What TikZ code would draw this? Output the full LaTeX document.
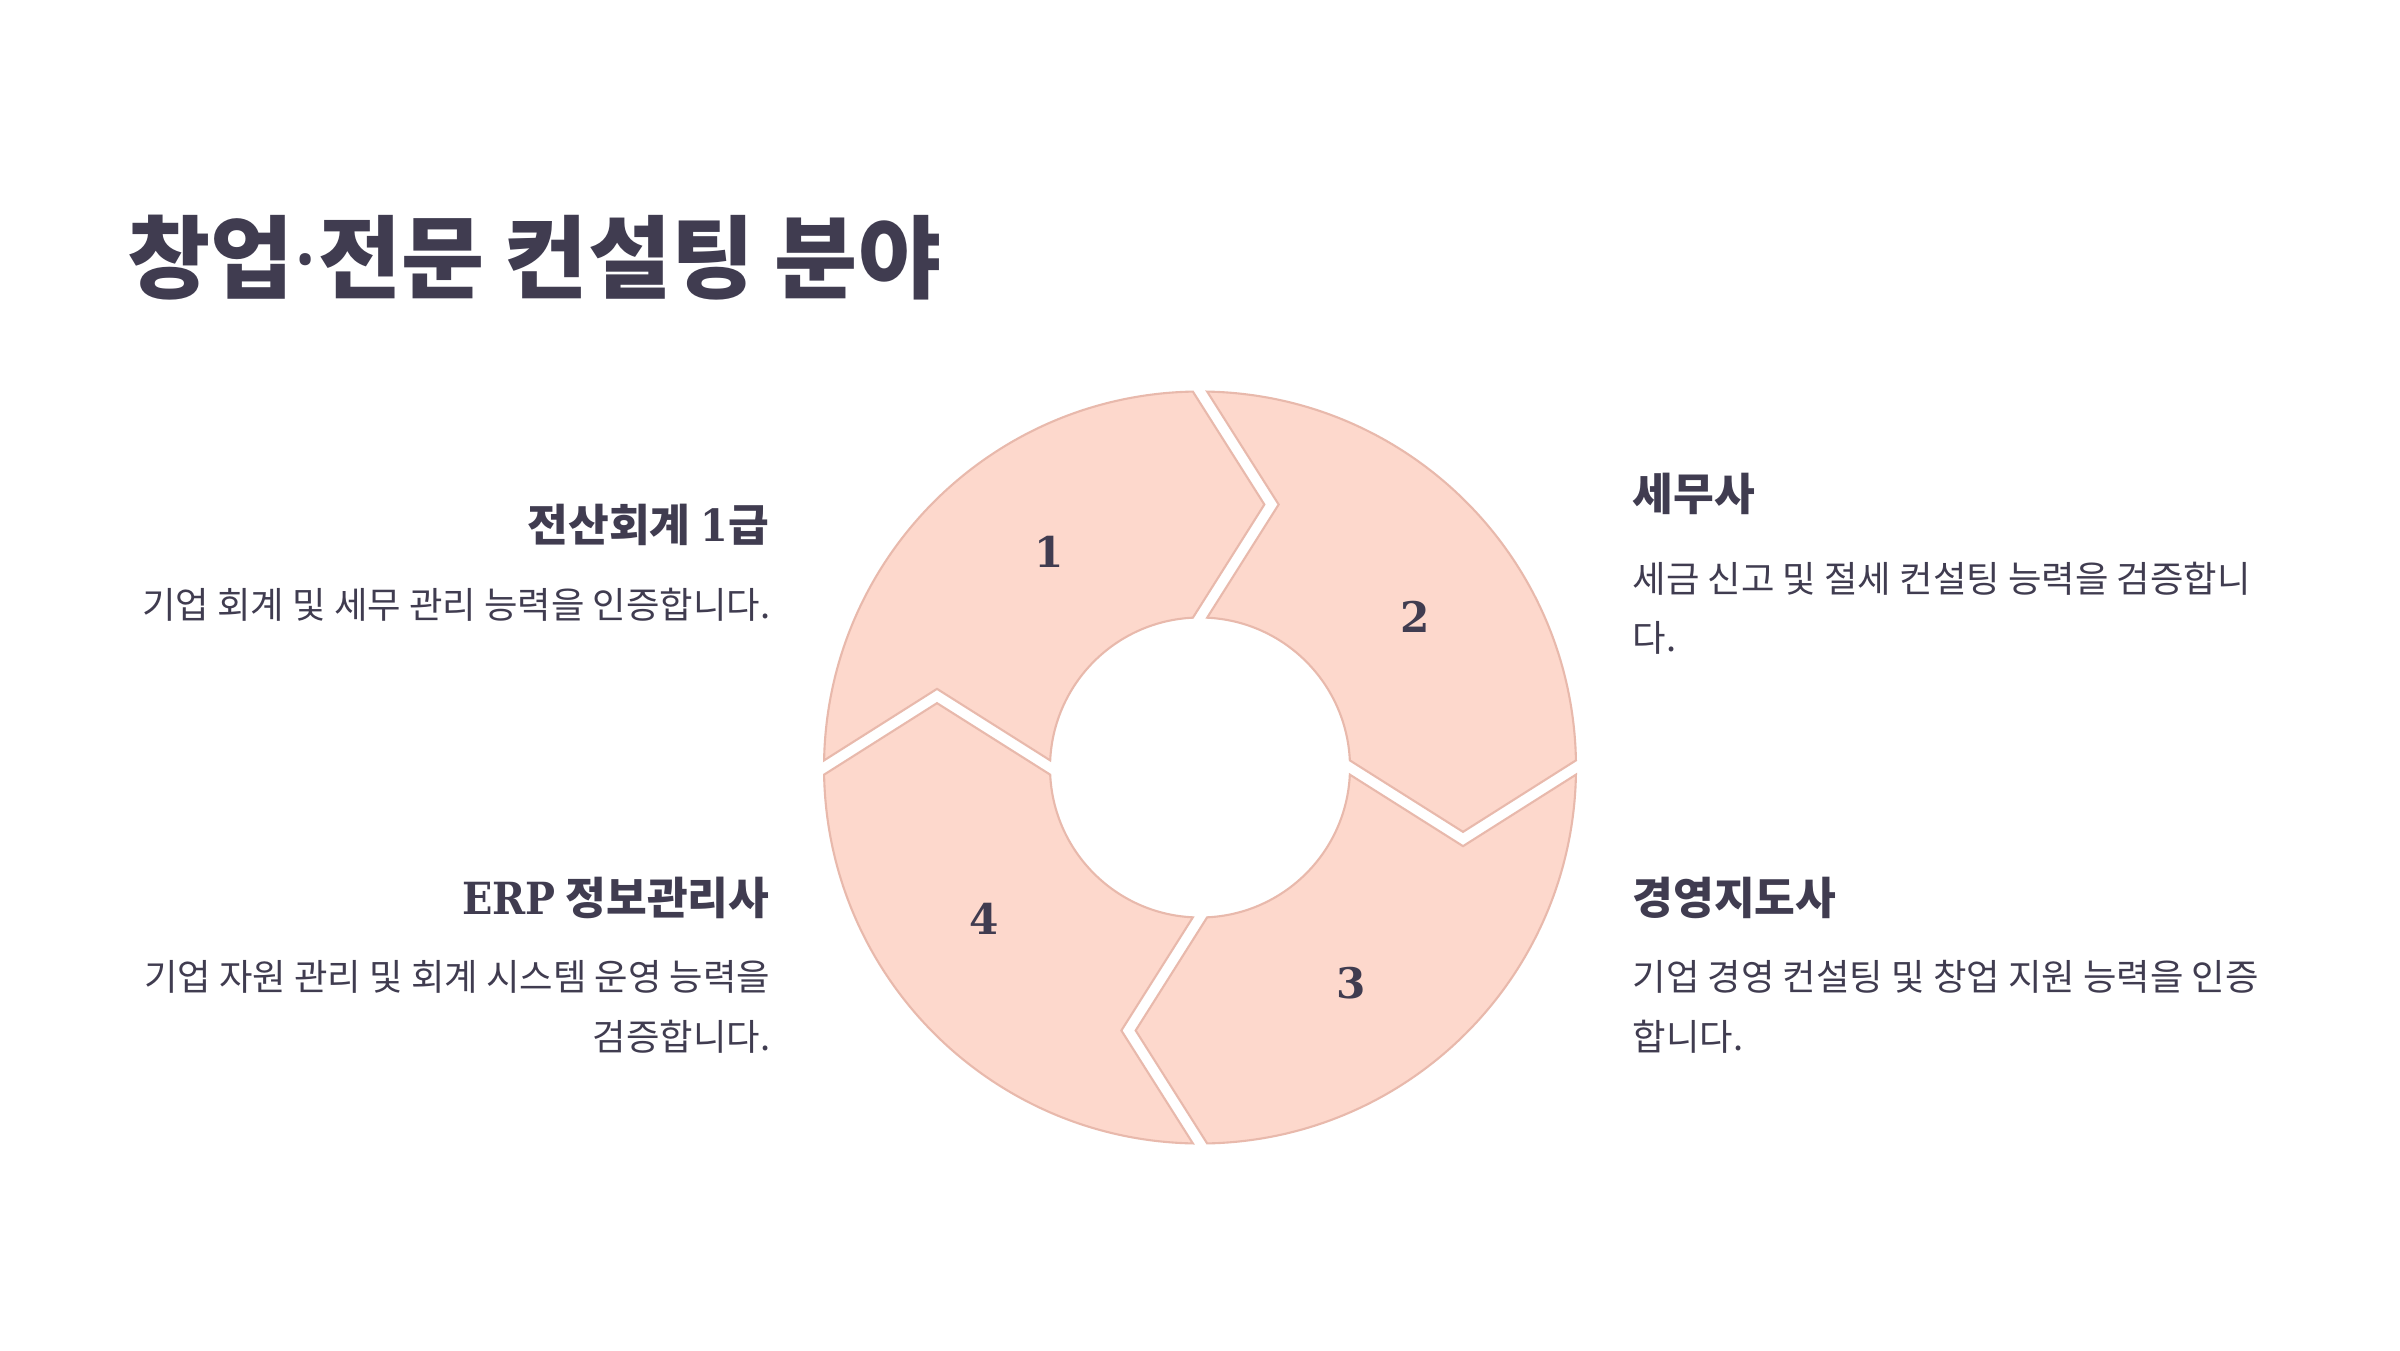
\documentclass[tikz,border=0pt]{standalone}
\usepackage{fontspec}
\setmainfont{Noto Sans CJK KR}
\newfontfamily\serifnum{DejaVu Serif}
\newfontfamily\serifhead{DejaVu Serif Condensed}
\newfontfamily\dotfont{Noto Sans}
\usetikzlibrary{positioning}
\definecolor{ink}{HTML}{403C50}
\definecolor{petal}{HTML}{FDD8CC}
\definecolor{petalline}{HTML}{E8B9AC}
\newcommand{\latin}[1]{{\serifhead\bfseries #1}}

\begin{document}
\begin{tikzpicture}[
  piece/.style={fill=petal, draw=petalline, line width=0.6pt, line join=miter},
  num/.style={font=\serifnum\bfseries\fontsize{12}{12}\selectfont, text=ink},
  title/.style={font=\bfseries\fontsize{25.7}{30}\selectfont, text=ink, inner sep=0pt},
  head/.style={font=\bfseries\fontsize{12.6}{15}\selectfont, text=ink, inner sep=0pt},
  desc/.style={font=\fontsize{10.35}{17}\selectfont, text=ink, inner sep=0pt},
]
\useasboundingbox[fill=white] (0,0) rectangle (24,13.5);

\node[title, anchor=west] (ttl) at (1.27,10.92) {창업{\dotfont\bfseries ·}전문 컨설팅 분야};

% ring of four arrow pieces, clockwise
\foreach \k in {0,...,3} {
  \pgfmathtruncatemacro{\n}{\k+1}
  \begin{scope}[shift={(12,5.825)}, rotate=-90*\k]
    \path[piece] (91.09:3.76) arc[start angle=91.09, end angle=178.91, radius=3.76]
      -- (-2.63,0.7865) -- (177.27:1.5) arc[start angle=177.27, end angle=92.73, radius=1.5]
      -- (0.6435,2.63) -- cycle;
    \node[num] (n\n) at (125:2.63) {\n};
  \end{scope}
}

% left column
\node[head, anchor=east] (h1) at (7.70,8.25) {전산회계 \latin{1}급};
\node[desc, anchor=east] (d1) at (7.71,7.45) {기업 회계 및 세무 관리 능력을 인증합니다.};
\node[head, anchor=east] (h4) at (7.70,4.52) {\latin{ERP} 정보관리사};
\node[desc, anchor=north east, align=right] (d4) at (7.71,3.90)
  {기업 자원 관리 및 회계 시스템 운영 능력을\\검증합니다.};

% right column
\node[head, anchor=west] (h2) at (16.32,8.56) {세무사};
\node[desc, anchor=north west, align=left] (d2) at (16.32,7.89)
  {세금 신고 및 절세 컨설팅 능력을 검증합니\\다.};
\node[head, anchor=west] (h3) at (16.32,4.52) {경영지도사};
\node[desc, anchor=north west, align=left] (d3) at (16.32,3.90)
  {기업 경영 컨설팅 및 창업 지원 능력을 인증\\합니다.};
\end{tikzpicture}
\end{document}
